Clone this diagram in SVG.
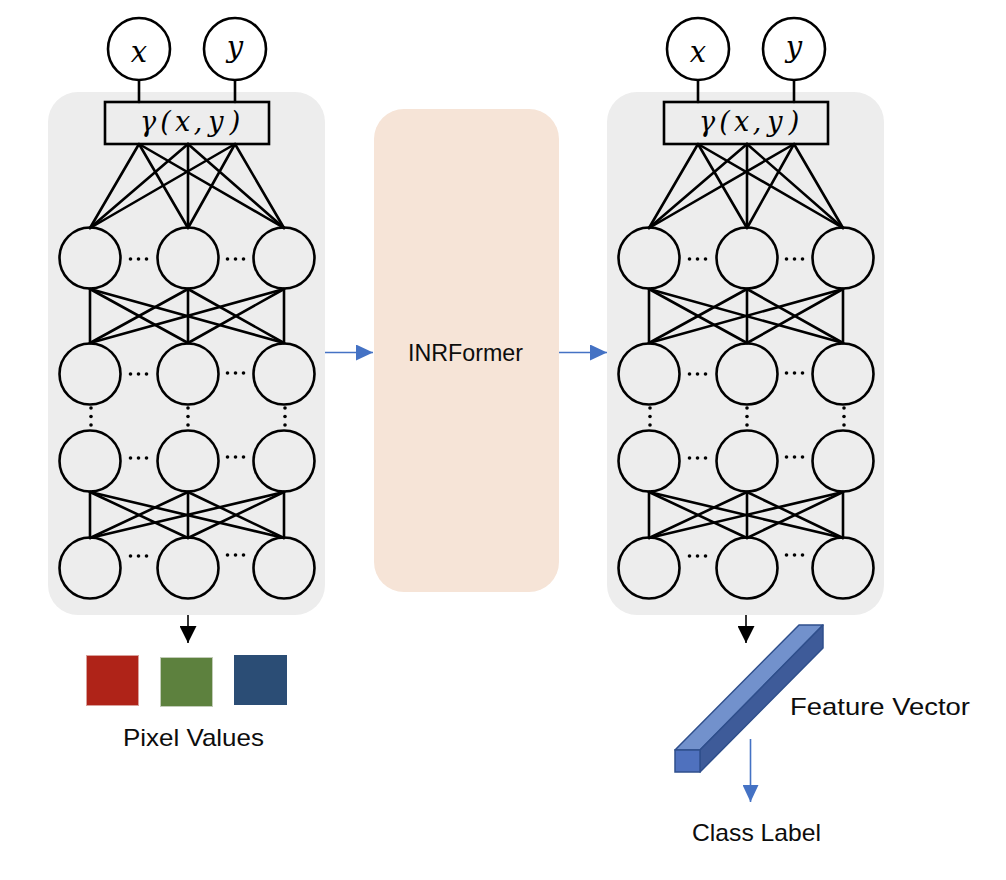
<svg xmlns="http://www.w3.org/2000/svg" width="1006" height="880" viewBox="0 0 1006 880">
<defs>
<style>
.panel{fill:#EDEDED;}
.nd{fill:none;stroke:#000;stroke-width:2.6;}
.io{fill:#fff;stroke:#000;stroke-width:2.6;}
.box{fill:none;stroke:#000;stroke-width:2.6;}
.e{stroke:#000;stroke-width:2.6;fill:none;stroke-linecap:round;}
.math{font-family:"DejaVu Serif","Liberation Serif",serif;font-style:italic;fill:#000;text-anchor:middle;}
.lbl{font-family:"Liberation Sans",Arial,sans-serif;font-size:24px;fill:#0d0d0d;}
.dot{fill:#000;}
.blue{stroke:#4472C4;stroke-width:1.6;fill:none;}
.blk{stroke:#000;stroke-width:1.6;fill:none;}
</style>
<marker id="ab" markerUnits="userSpaceOnUse" markerWidth="17" markerHeight="16" viewBox="0 0 17 16" refX="17" refY="8" orient="auto">
<path d="M0,0 L17,8 L0,16 z" fill="#4472C4"/>
</marker>
<marker id="ak" markerUnits="userSpaceOnUse" markerWidth="17" markerHeight="17" viewBox="0 0 17 17" refX="17" refY="8.5" orient="auto">
<path d="M0,0 L17,8.5 L0,17 z" fill="#000"/>
</marker>
<g id="net">
<rect class="panel" x="48" y="92" width="277" height="523" rx="30"/>
<g class="edges">
<line class="e" x1="139" y1="80" x2="139" y2="102"/>
<line class="e" x1="235" y1="80" x2="235" y2="102"/>
<line class="e" x1="139" y1="144" x2="90" y2="228"/>
<line class="e" x1="139" y1="144" x2="188" y2="228"/>
<line class="e" x1="139" y1="144" x2="284" y2="228"/>
<line class="e" x1="188" y1="144" x2="90" y2="228"/>
<line class="e" x1="188" y1="144" x2="188" y2="228"/>
<line class="e" x1="188" y1="144" x2="284" y2="228"/>
<line class="e" x1="235" y1="144" x2="90" y2="228"/>
<line class="e" x1="235" y1="144" x2="188" y2="228"/>
<line class="e" x1="235" y1="144" x2="284" y2="228"/>
<line class="e" x1="90" y1="289" x2="90" y2="343"/>
<line class="e" x1="90" y1="289" x2="188" y2="343"/>
<line class="e" x1="90" y1="289" x2="284" y2="343"/>
<line class="e" x1="188" y1="289" x2="90" y2="343"/>
<line class="e" x1="188" y1="289" x2="188" y2="343"/>
<line class="e" x1="188" y1="289" x2="284" y2="343"/>
<line class="e" x1="284" y1="289" x2="90" y2="343"/>
<line class="e" x1="284" y1="289" x2="188" y2="343"/>
<line class="e" x1="284" y1="289" x2="284" y2="343"/>
<line class="e" x1="90" y1="492" x2="90" y2="538"/>
<line class="e" x1="90" y1="492" x2="188" y2="538"/>
<line class="e" x1="90" y1="492" x2="284" y2="538"/>
<line class="e" x1="188" y1="492" x2="90" y2="538"/>
<line class="e" x1="188" y1="492" x2="188" y2="538"/>
<line class="e" x1="188" y1="492" x2="284" y2="538"/>
<line class="e" x1="284" y1="492" x2="90" y2="538"/>
<line class="e" x1="284" y1="492" x2="188" y2="538"/>
<line class="e" x1="284" y1="492" x2="284" y2="538"/>
</g>
<g class="in-x"><circle class="io" cx="139" cy="49" r="31"/><text class="math" x="139" y="62" font-size="29">x</text></g>
<g class="in-y"><circle class="io" cx="235" cy="49" r="31"/><text class="math" x="235" y="57" font-size="29">y</text></g>
<g class="enc">
<rect class="box" x="105" y="102" width="164" height="42"/>
<text class="math" y="131" font-size="27"><tspan x="148">γ</tspan><tspan x="165.5">(</tspan><tspan x="182.5">x</tspan><tspan x="198">,</tspan><tspan x="216">y</tspan><tspan x="235">)</tspan></text>
</g>
<g class="layer1">
<circle class="nd" cx="90" cy="258" r="30.5"/><circle class="nd" cx="188" cy="258" r="30.5"/><circle class="nd" cx="284" cy="258" r="30.5"/>
<circle class="dot" cx="130.5" cy="259" r="1.8"/><circle class="dot" cx="138.5" cy="259" r="1.8"/><circle class="dot" cx="146.5" cy="259" r="1.8"/>
<circle class="dot" cx="227.5" cy="259" r="1.8"/><circle class="dot" cx="235.5" cy="259" r="1.8"/><circle class="dot" cx="243.5" cy="259" r="1.8"/>
</g>
<g class="layer2">
<circle class="nd" cx="90" cy="374" r="30.5"/><circle class="nd" cx="188" cy="374" r="30.5"/><circle class="nd" cx="284" cy="374" r="30.5"/>
<circle class="dot" cx="130.5" cy="374" r="1.8"/><circle class="dot" cx="138.5" cy="374" r="1.8"/><circle class="dot" cx="146.5" cy="374" r="1.8"/>
<circle class="dot" cx="227.5" cy="373" r="1.8"/><circle class="dot" cx="235.5" cy="373" r="1.8"/><circle class="dot" cx="243.5" cy="373" r="1.8"/>
</g>
<g class="vdots">
<circle class="dot" cx="91" cy="408" r="1.8"/><circle class="dot" cx="91" cy="416.5" r="1.8"/><circle class="dot" cx="91" cy="425" r="1.8"/>
<circle class="dot" cx="188" cy="408" r="1.8"/><circle class="dot" cx="188" cy="416.5" r="1.8"/><circle class="dot" cx="188" cy="425" r="1.8"/>
<circle class="dot" cx="285" cy="408" r="1.8"/><circle class="dot" cx="285" cy="416.5" r="1.8"/><circle class="dot" cx="285" cy="425" r="1.8"/>
</g>
<g class="layer3">
<circle class="nd" cx="90" cy="461" r="30.5"/><circle class="nd" cx="188" cy="461" r="30.5"/><circle class="nd" cx="284" cy="461" r="30.5"/>
<circle class="dot" cx="130.5" cy="458" r="1.8"/><circle class="dot" cx="138.5" cy="458" r="1.8"/><circle class="dot" cx="146.5" cy="458" r="1.8"/>
<circle class="dot" cx="227.5" cy="457" r="1.8"/><circle class="dot" cx="235.5" cy="457" r="1.8"/><circle class="dot" cx="243.5" cy="457" r="1.8"/>
</g>
<g class="layer4">
<circle class="nd" cx="90" cy="568" r="30.5"/><circle class="nd" cx="188" cy="568" r="30.5"/><circle class="nd" cx="284" cy="568" r="30.5"/>
<circle class="dot" cx="130.5" cy="556" r="1.8"/><circle class="dot" cx="138.5" cy="556" r="1.8"/><circle class="dot" cx="146.5" cy="556" r="1.8"/>
<circle class="dot" cx="227.5" cy="555" r="1.8"/><circle class="dot" cx="235.5" cy="555" r="1.8"/><circle class="dot" cx="243.5" cy="555" r="1.8"/>
</g>
</g>
</defs>
<rect width="1006" height="880" fill="#fff"/>

<g id="inr-left"><use href="#net"/></g>
<g id="inr-right"><use href="#net" transform="translate(559,0)"/></g>

<g id="inrformer">
<rect x="374" y="109" width="185" height="483" rx="30" fill="#F6E4D7"/>
<text class="lbl" x="408" y="361" textLength="115" lengthAdjust="spacingAndGlyphs">INRFormer</text>
</g>

<g id="pixel-values">
<rect x="86.5" y="655.5" width="52" height="50" fill="#AF2318" stroke="#D9A09B" stroke-width="1"/>
<rect x="160.5" y="657.5" width="52" height="49" fill="#5D813E" stroke="#C2CCB8" stroke-width="1"/>
<rect x="234" y="655" width="53" height="50" fill="#2B4D75"/>
<text class="lbl" x="123" y="746" textLength="141" lengthAdjust="spacingAndGlyphs">Pixel Values</text>
</g>

<g id="feature-vector">
<polygon points="675,750 799,625 823,625 700,750" fill="#7291CC" stroke="#2F4F8C" stroke-width="1.5" stroke-linejoin="round"/>
<polygon points="700,750 823,625 823,648 700,772" fill="#3E5B99" stroke="#2F4F8C" stroke-width="1.5" stroke-linejoin="round"/>
<rect x="675" y="750" width="25" height="22" fill="#4F71BE" stroke="#2F4F8C" stroke-width="1.5"/>
<text class="lbl" x="790" y="715" textLength="180" lengthAdjust="spacingAndGlyphs">Feature Vector</text>
</g>

<g id="class-label">
<text class="lbl" x="692" y="841" textLength="129" lengthAdjust="spacingAndGlyphs">Class Label</text>
</g>

<g id="connectors">
<line class="blue" x1="325" y1="352.5" x2="373" y2="352.5" marker-end="url(#ab)"/>
<line class="blue" x1="559" y1="352.5" x2="607" y2="352.5" marker-end="url(#ab)"/>
<line class="blk" x1="188" y1="615" x2="188" y2="643" marker-end="url(#ak)"/>
<line class="blk" x1="746" y1="615" x2="746" y2="643" marker-end="url(#ak)"/>
<line class="blue" x1="750.5" y1="739" x2="750.5" y2="802" marker-end="url(#ab)"/>
</g>
</svg>
